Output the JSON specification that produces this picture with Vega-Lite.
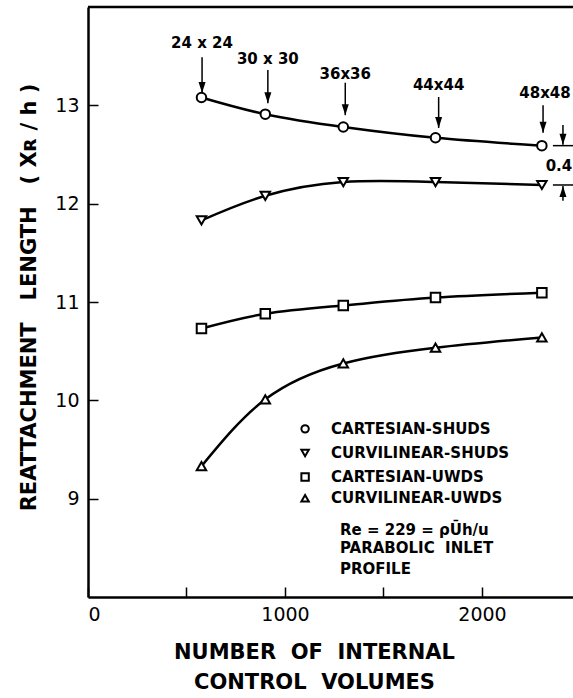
{
  "$schema": "https://vega.github.io/schema/vega-lite/v6.json",
  "width": 485,
  "height": 590,
  "autosize": "none",
  "padding": {"left": 88, "top": 7, "right": 0, "bottom": 101},
  "background": "white",
  "config": {"view": {"stroke": null}, "font": "DejaVu Sans"},
  "datasets": {
    "series": [
      {"series": "CARTESIAN-SHUDS", "x": 576, "y": 13.08},
      {"series": "CARTESIAN-SHUDS", "x": 900, "y": 12.91},
      {"series": "CARTESIAN-SHUDS", "x": 1296, "y": 12.78},
      {"series": "CARTESIAN-SHUDS", "x": 1764, "y": 12.67},
      {"series": "CARTESIAN-SHUDS", "x": 2304, "y": 12.59},
      {"series": "CURVILINEAR-SHUDS", "x": 576, "y": 11.83},
      {"series": "CURVILINEAR-SHUDS", "x": 900, "y": 12.08},
      {"series": "CURVILINEAR-SHUDS", "x": 1296, "y": 12.22},
      {"series": "CURVILINEAR-SHUDS", "x": 1764, "y": 12.22},
      {"series": "CURVILINEAR-SHUDS", "x": 2304, "y": 12.19},
      {"series": "CARTESIAN-UWDS", "x": 576, "y": 10.73},
      {"series": "CARTESIAN-UWDS", "x": 900, "y": 10.88},
      {"series": "CARTESIAN-UWDS", "x": 1296, "y": 10.965},
      {"series": "CARTESIAN-UWDS", "x": 1764, "y": 11.045},
      {"series": "CARTESIAN-UWDS", "x": 2304, "y": 11.095},
      {"series": "CURVILINEAR-UWDS", "x": 576, "y": 9.33},
      {"series": "CURVILINEAR-UWDS", "x": 900, "y": 10.01},
      {"series": "CURVILINEAR-UWDS", "x": 1296, "y": 10.375},
      {"series": "CURVILINEAR-UWDS", "x": 1764, "y": 10.535},
      {"series": "CURVILINEAR-UWDS", "x": 2304, "y": 10.64}
    ],
    "gridLabels": [
      {"label": "24 x 24", "x": 579, "y": 13.63},
      {"label": "30 x 30", "x": 913, "y": 13.47},
      {"label": "36x36", "x": 1306, "y": 13.32},
      {"label": "44x44", "x": 1780, "y": 13.21},
      {"label": "48x48", "x": 2320, "y": 13.13}
    ],
    "downArrows": [
      {"x": 579, "y": 13.49, "y2": 13.125},
      {"x": 913, "y": 13.36, "y2": 13.02},
      {"x": 1306, "y": 13.23, "y2": 12.9},
      {"x": 1780, "y": 13.085, "y2": 12.77},
      {"x": 2310, "y": 13.0, "y2": 12.72},
      {"x": 2411, "y": 12.8, "y2": 12.6}
    ],
    "upArrows": [
      {"x": 2411, "y": 12.03, "y2": 12.18}
    ],
    "levels": [
      {"x": 2360, "x2": 2462, "y": 12.59},
      {"x": 2360, "x2": 2462, "y": 12.19}
    ],
    "legend": [
      {"series": "CARTESIAN-SHUDS", "x": 1102, "tx": 1234, "y": 9.71},
      {"series": "CURVILINEAR-SHUDS", "x": 1102, "tx": 1234, "y": 9.465},
      {"series": "CARTESIAN-UWDS", "x": 1102, "tx": 1234, "y": 9.22},
      {"series": "CURVILINEAR-UWDS", "x": 1102, "tx": 1234, "y": 9.005}
    ],
    "notes": [
      {"label": "Re = 229 = ρŪh/u", "x": 1279, "y": 8.68},
      {"label": "PARABOLIC\u00a0\u00a0INLET", "x": 1279, "y": 8.5},
      {"label": "PROFILE", "x": 1279, "y": 8.285}
    ],
    "gap": [
      {"label": "0.4", "x": 2458, "y": 12.38}
    ]
  },
  "layer": [
    {
      "data": {"name": "series"},
      "mark": {"type": "line", "interpolate": "natural", "stroke": "black", "strokeWidth": 2.5},
      "encoding": {
        "x": {
          "field": "x", "type": "quantitative",
          "scale": {"domain": [0, 2462], "nice": false, "zero": false},
          "axis": {
            "values": [0, 500, 1000, 1500, 2000],
            "labelExpr": "datum.value % 1000 == 0 ? datum.label : ''",
            "format": "d",
            "grid": false,
            "tickSize": -10, "tickWidth": 1.5, "tickColor": "black",
            "domainColor": "black", "domainWidth": 2.5,
            "labelFontSize": 19, "labelColor": "black", "labelPadding": 18,
            "title": ["NUMBER\u00a0\u00a0OF\u00a0\u00a0INTERNAL", "CONTROL\u00a0\u00a0VOLUMES"],
            "titleFontSize": 21, "titleFontWeight": "bold", "titleColor": "black",
            "titleLineHeight": 30, "titleBaseline": "top", "titleAlign": "center",
            "titleX": 226, "titleY": 44
          }
        },
        "y": {
          "field": "y", "type": "quantitative",
          "scale": {"domain": [8, 14], "nice": false, "zero": false},
          "axis": {
            "values": [9, 10, 11, 12, 13],
            "format": "d",
            "grid": false,
            "tickSize": -10, "tickWidth": 1.5, "tickColor": "black",
            "domainColor": "black", "domainWidth": 2.5,
            "labelFontSize": 19, "labelColor": "black", "labelPadding": 19,
            "title": "REATTACHMENT\u00a0\u00a0\u00a0LENGTH\u00a0\u00a0\u00a0(\u00a0Xʀ\u00a0/\u00a0h\u00a0)",
            "titleFontSize": 21, "titleFontWeight": "bold", "titleColor": "black",
            "titleAngle": -90, "titleBaseline": "middle", "titleAlign": "center",
            "titleX": -59, "titleY": 290
          }
        },
        "detail": {"field": "series"}
      }
    },
    {
      "data": {"name": "series"},
      "mark": {"type": "point", "filled": true, "fill": "white", "stroke": "black", "strokeWidth": 2, "size": 90, "opacity": 1},
      "encoding": {
        "x": {"field": "x", "type": "quantitative"},
        "y": {"field": "y", "type": "quantitative"},
        "shape": {
          "field": "series", "type": "nominal", "legend": null,
          "scale": {"domain": ["CARTESIAN-SHUDS", "CURVILINEAR-SHUDS", "CARTESIAN-UWDS", "CURVILINEAR-UWDS"], "range": ["circle", "triangle-down", "square", "triangle-up"]}
        }
      }
    },
    {
      "data": {"name": "legend"},
      "mark": {"type": "point", "filled": true, "fill": "white", "stroke": "black", "strokeWidth": 2, "size": 55, "opacity": 1},
      "encoding": {
        "x": {"field": "x", "type": "quantitative"},
        "y": {"field": "y", "type": "quantitative"},
        "shape": {"field": "series", "type": "nominal", "legend": null}
      }
    },
    {
      "data": {"name": "legend"},
      "mark": {"type": "text", "align": "left", "baseline": "middle", "fontSize": 15, "fontWeight": "bold", "color": "black"},
      "encoding": {
        "x": {"field": "tx", "type": "quantitative"},
        "y": {"field": "y", "type": "quantitative"},
        "text": {"field": "series"}
      }
    },
    {
      "data": {"name": "notes"},
      "mark": {"type": "text", "align": "left", "baseline": "middle", "fontSize": 15, "fontWeight": "bold", "color": "black"},
      "encoding": {
        "x": {"field": "x", "type": "quantitative"},
        "y": {"field": "y", "type": "quantitative"},
        "text": {"field": "label"}
      }
    },
    {
      "data": {"name": "gap"},
      "mark": {"type": "text", "align": "right", "baseline": "middle", "fontSize": 15, "fontWeight": "bold", "color": "black"},
      "encoding": {
        "x": {"field": "x", "type": "quantitative"},
        "y": {"field": "y", "type": "quantitative"},
        "text": {"field": "label"}
      }
    },
    {
      "data": {"name": "gridLabels"},
      "mark": {"type": "text", "align": "center", "baseline": "middle", "fontSize": 15, "fontWeight": "bold", "color": "black"},
      "encoding": {
        "x": {"field": "x", "type": "quantitative"},
        "y": {"field": "y", "type": "quantitative"},
        "text": {"field": "label"}
      }
    },
    {
      "data": {"name": "downArrows"},
      "mark": {"type": "rule", "stroke": "black", "strokeWidth": 1.5},
      "encoding": {
        "x": {"field": "x", "type": "quantitative"},
        "y": {"field": "y", "type": "quantitative"},
        "y2": {"field": "y2"}
      }
    },
    {
      "data": {"name": "downArrows"},
      "mark": {"type": "point", "shape": "M-0.7,-2.2L0.7,-2.2L0,0Z", "filled": true, "fill": "black", "stroke": null, "size": 100, "opacity": 1},
      "encoding": {
        "x": {"field": "x", "type": "quantitative"},
        "y": {"field": "y2", "type": "quantitative"}
      }
    },
    {
      "data": {"name": "upArrows"},
      "mark": {"type": "rule", "stroke": "black", "strokeWidth": 1.5},
      "encoding": {
        "x": {"field": "x", "type": "quantitative"},
        "y": {"field": "y", "type": "quantitative"},
        "y2": {"field": "y2"}
      }
    },
    {
      "data": {"name": "upArrows"},
      "mark": {"type": "point", "shape": "M-0.7,2.2L0.7,2.2L0,0Z", "filled": true, "fill": "black", "stroke": null, "size": 100, "opacity": 1},
      "encoding": {
        "x": {"field": "x", "type": "quantitative"},
        "y": {"field": "y2", "type": "quantitative"}
      }
    },
    {
      "data": {"name": "levels"},
      "mark": {"type": "rule", "stroke": "black", "strokeWidth": 1.5},
      "encoding": {
        "x": {"field": "x", "type": "quantitative"},
        "x2": {"field": "x2"},
        "y": {"field": "y", "type": "quantitative"}
      }
    },
    {
      "data": {"values": [{}]},
      "mark": {"type": "rule", "stroke": "black", "strokeWidth": 2.5},
      "encoding": {
        "x": {"datum": 0, "type": "quantitative"},
        "x2": {"datum": 2462},
        "y": {"datum": 14, "type": "quantitative"}
      }
    }
  ]
}
